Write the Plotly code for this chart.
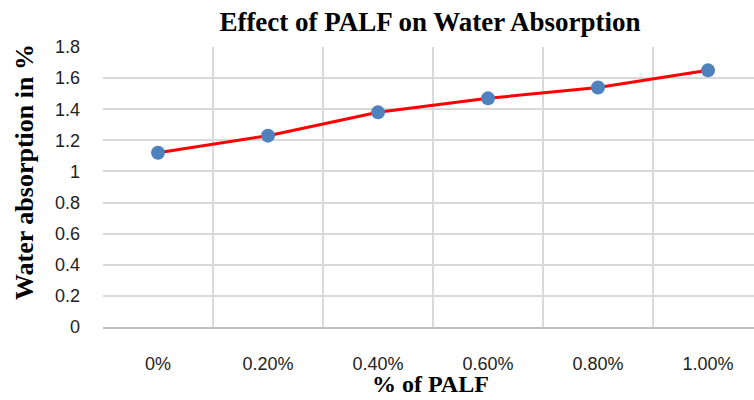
import plotly.graph_objects as go

categories = ["0%", "0.20%", "0.40%", "0.60%", "0.80%", "1.00%"]
water_absorption = [1.12, 1.23, 1.38, 1.47, 1.54, 1.65]

chart_title = "Effect of PALF on Water Absorption"
x_title = "% of PALF"
y_title = "Water absorption in %"

serif = "Liberation Serif, Times New Roman, serif"
sans = "Liberation Sans, Arial, sans-serif"

fig = go.Figure()
fig.add_trace(go.Scatter(
    x=categories, y=water_absorption, mode="lines+markers",
    line=dict(color="#FF0000", width=3),
    marker=dict(color="#4F81BD", size=14),
    showlegend=False,
))

fig.update_layout(
    width=754, height=400,
    margin=dict(l=103, r=0, t=47, b=73),
    paper_bgcolor="white", plot_bgcolor="white",
    title=dict(text="<b>" + chart_title + "</b>",
               font=dict(family=serif, size=27, color="black"),
               x=430/754, xanchor="center", y=1-22/400, yanchor="middle"),
    annotations=[
        dict(text="<b>" + x_title + "</b>", xref="paper", yref="paper",
             x=(430-103)/651, y=-(399-327)/280, xanchor="center", yanchor="bottom",
             showarrow=False, font=dict(family=serif, size=24, color="black")),
        dict(text="<b>" + y_title + "</b>", xref="paper", yref="paper",
             x=-(103-24)/651, y=(327-172)/280, xanchor="center", yanchor="middle",
             textangle=-90, showarrow=False,
             font=dict(family=serif, size=26, color="black")),
    ],
)
fig.update_xaxes(
    type="category", range=[-0.5, 5.418],
    tickson="boundaries", showgrid=True, gridcolor="#D9D9D9", gridwidth=1.5,
    showline=True, linecolor="#BFBFBF", linewidth=2,
    ticks="", tickfont=dict(family=sans, size=18, color="#222222"),
    ticklabelstandoff=19,
    automargin=False,
)
fig.update_yaxes(
    range=[0, 1.8], dtick=0.2, tickformat="~g",
    showgrid=True, gridcolor="#D9D9D9", gridwidth=1.5, zeroline=False,
    showline=False, ticks="", tickfont=dict(family=sans, size=18, color="#222222"),
    ticklabelstandoff=22,
    automargin=False,
)

fig.write_html("out.html", config={"displayModeBar": False},
               post_script="document.body.style.margin='0';")
